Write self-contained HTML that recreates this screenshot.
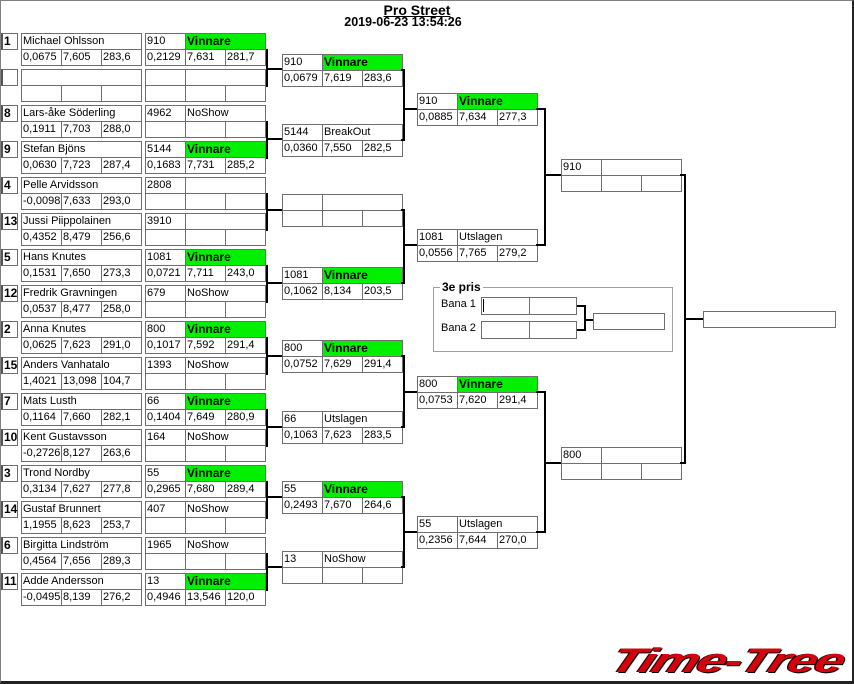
<!DOCTYPE html>
<html><head><meta charset="utf-8">
<style>
*{margin:0;padding:0}
body{width:854px;height:684px;position:relative;background:#fff;overflow:hidden;font-family:"Liberation Sans",sans-serif}
.c{position:absolute;border:1px solid #6e6e6e;box-sizing:border-box;height:17px;width:41px;font-size:11px;line-height:15px;padding-left:1px;white-space:nowrap;overflow:hidden;color:#000;background:#fff}
.w{width:121px}.m{width:81px}
.g{background:#00f000;font-weight:bold;font-size:12px}
.s{position:absolute;border:1px solid #6e6e6e;border-left:2px solid #555;box-sizing:border-box;width:17px;height:17px;font-weight:bold;font-size:12px;line-height:15px;padding-left:1px}
.h{position:absolute;background:#000;height:2px}
.v{position:absolute;background:#000;width:2px}
</style></head><body>
<div style="position:absolute;left:0;top:0;width:854px;height:684px;box-sizing:border-box;border:1px solid #808080;border-right:2px solid #222;border-bottom:3px solid #222"></div>
<div style="position:absolute;left:0;width:834px;top:2px;text-align:center;font-weight:bold;font-size:14px;text-decoration:underline">Pro Street</div>
<div style="position:absolute;left:0;width:806px;top:15px;text-align:center;font-weight:bold;font-size:12.5px">2019-06-23 13:54:26</div>

<!-- slot 33 -->
<div class="s" style="left:1px;top:33px">1</div>
<div class="c w" style="left:21px;top:33px">Michael Ohlsson</div>
<div class="c" style="left:21px;top:49px">0,0675</div><div class="c" style="left:61px;top:49px">7,605</div><div class="c" style="left:101px;top:49px">283,6</div>
<div class="c" style="left:145px;top:33px">910</div><div class="c m g" style="left:185px;top:33px">Vinnare</div>
<div class="c" style="left:145px;top:49px">0,2129</div><div class="c" style="left:185px;top:49px">7,631</div><div class="c" style="left:225px;top:49px">281,7</div>
<!-- slot 69 -->
<div class="s" style="left:1px;top:69px"></div>
<div class="c w" style="left:21px;top:69px"></div>
<div class="c" style="left:21px;top:85px"></div><div class="c" style="left:61px;top:85px"></div><div class="c" style="left:101px;top:85px"></div>
<div class="c" style="left:145px;top:69px"></div><div class="c m" style="left:185px;top:69px"></div>
<div class="c" style="left:145px;top:85px"></div><div class="c" style="left:185px;top:85px"></div><div class="c" style="left:225px;top:85px"></div>
<!-- slot 105 -->
<div class="s" style="left:1px;top:105px">8</div>
<div class="c w" style="left:21px;top:105px">Lars-åke Söderling</div>
<div class="c" style="left:21px;top:121px">0,1911</div><div class="c" style="left:61px;top:121px">7,703</div><div class="c" style="left:101px;top:121px">288,0</div>
<div class="c" style="left:145px;top:105px">4962</div><div class="c m" style="left:185px;top:105px">NoShow</div>
<div class="c" style="left:145px;top:121px"></div><div class="c" style="left:185px;top:121px"></div><div class="c" style="left:225px;top:121px"></div>
<!-- slot 141 -->
<div class="s" style="left:1px;top:141px">9</div>
<div class="c w" style="left:21px;top:141px">Stefan Bjöns</div>
<div class="c" style="left:21px;top:157px">0,0630</div><div class="c" style="left:61px;top:157px">7,723</div><div class="c" style="left:101px;top:157px">287,4</div>
<div class="c" style="left:145px;top:141px">5144</div><div class="c m g" style="left:185px;top:141px">Vinnare</div>
<div class="c" style="left:145px;top:157px">0,1683</div><div class="c" style="left:185px;top:157px">7,731</div><div class="c" style="left:225px;top:157px">285,2</div>
<!-- slot 177 -->
<div class="s" style="left:1px;top:177px">4</div>
<div class="c w" style="left:21px;top:177px">Pelle Arvidsson</div>
<div class="c" style="left:21px;top:193px">-0,0098</div><div class="c" style="left:61px;top:193px">7,633</div><div class="c" style="left:101px;top:193px">293,0</div>
<div class="c" style="left:145px;top:177px">2808</div><div class="c m" style="left:185px;top:177px"></div>
<div class="c" style="left:145px;top:193px"></div><div class="c" style="left:185px;top:193px"></div><div class="c" style="left:225px;top:193px"></div>
<!-- slot 213 -->
<div class="s" style="left:1px;top:213px">13</div>
<div class="c w" style="left:21px;top:213px">Jussi Piippolainen</div>
<div class="c" style="left:21px;top:229px">0,4352</div><div class="c" style="left:61px;top:229px">8,479</div><div class="c" style="left:101px;top:229px">256,6</div>
<div class="c" style="left:145px;top:213px">3910</div><div class="c m" style="left:185px;top:213px"></div>
<div class="c" style="left:145px;top:229px"></div><div class="c" style="left:185px;top:229px"></div><div class="c" style="left:225px;top:229px"></div>
<!-- slot 249 -->
<div class="s" style="left:1px;top:249px">5</div>
<div class="c w" style="left:21px;top:249px">Hans Knutes</div>
<div class="c" style="left:21px;top:265px">0,1531</div><div class="c" style="left:61px;top:265px">7,650</div><div class="c" style="left:101px;top:265px">273,3</div>
<div class="c" style="left:145px;top:249px">1081</div><div class="c m g" style="left:185px;top:249px">Vinnare</div>
<div class="c" style="left:145px;top:265px">0,0721</div><div class="c" style="left:185px;top:265px">7,711</div><div class="c" style="left:225px;top:265px">243,0</div>
<!-- slot 285 -->
<div class="s" style="left:1px;top:285px">12</div>
<div class="c w" style="left:21px;top:285px">Fredrik Gravningen</div>
<div class="c" style="left:21px;top:301px">0,0537</div><div class="c" style="left:61px;top:301px">8,477</div><div class="c" style="left:101px;top:301px">258,0</div>
<div class="c" style="left:145px;top:285px">679</div><div class="c m" style="left:185px;top:285px">NoShow</div>
<div class="c" style="left:145px;top:301px"></div><div class="c" style="left:185px;top:301px"></div><div class="c" style="left:225px;top:301px"></div>
<!-- slot 321 -->
<div class="s" style="left:1px;top:321px">2</div>
<div class="c w" style="left:21px;top:321px">Anna Knutes</div>
<div class="c" style="left:21px;top:337px">0,0625</div><div class="c" style="left:61px;top:337px">7,623</div><div class="c" style="left:101px;top:337px">291,0</div>
<div class="c" style="left:145px;top:321px">800</div><div class="c m g" style="left:185px;top:321px">Vinnare</div>
<div class="c" style="left:145px;top:337px">0,1017</div><div class="c" style="left:185px;top:337px">7,592</div><div class="c" style="left:225px;top:337px">291,4</div>
<!-- slot 357 -->
<div class="s" style="left:1px;top:357px">15</div>
<div class="c w" style="left:21px;top:357px">Anders Vanhatalo</div>
<div class="c" style="left:21px;top:373px">1,4021</div><div class="c" style="left:61px;top:373px">13,098</div><div class="c" style="left:101px;top:373px">104,7</div>
<div class="c" style="left:145px;top:357px">1393</div><div class="c m" style="left:185px;top:357px">NoShow</div>
<div class="c" style="left:145px;top:373px"></div><div class="c" style="left:185px;top:373px"></div><div class="c" style="left:225px;top:373px"></div>
<!-- slot 393 -->
<div class="s" style="left:1px;top:393px">7</div>
<div class="c w" style="left:21px;top:393px">Mats Lusth</div>
<div class="c" style="left:21px;top:409px">0,1164</div><div class="c" style="left:61px;top:409px">7,660</div><div class="c" style="left:101px;top:409px">282,1</div>
<div class="c" style="left:145px;top:393px">66</div><div class="c m g" style="left:185px;top:393px">Vinnare</div>
<div class="c" style="left:145px;top:409px">0,1404</div><div class="c" style="left:185px;top:409px">7,649</div><div class="c" style="left:225px;top:409px">280,9</div>
<!-- slot 429 -->
<div class="s" style="left:1px;top:429px">10</div>
<div class="c w" style="left:21px;top:429px">Kent Gustavsson</div>
<div class="c" style="left:21px;top:445px">-0,2726</div><div class="c" style="left:61px;top:445px">8,127</div><div class="c" style="left:101px;top:445px">263,6</div>
<div class="c" style="left:145px;top:429px">164</div><div class="c m" style="left:185px;top:429px">NoShow</div>
<div class="c" style="left:145px;top:445px"></div><div class="c" style="left:185px;top:445px"></div><div class="c" style="left:225px;top:445px"></div>
<!-- slot 465 -->
<div class="s" style="left:1px;top:465px">3</div>
<div class="c w" style="left:21px;top:465px">Trond Nordby</div>
<div class="c" style="left:21px;top:481px">0,3134</div><div class="c" style="left:61px;top:481px">7,627</div><div class="c" style="left:101px;top:481px">277,8</div>
<div class="c" style="left:145px;top:465px">55</div><div class="c m g" style="left:185px;top:465px">Vinnare</div>
<div class="c" style="left:145px;top:481px">0,2965</div><div class="c" style="left:185px;top:481px">7,680</div><div class="c" style="left:225px;top:481px">289,4</div>
<!-- slot 501 -->
<div class="s" style="left:1px;top:501px">14</div>
<div class="c w" style="left:21px;top:501px">Gustaf Brunnert</div>
<div class="c" style="left:21px;top:517px">1,1955</div><div class="c" style="left:61px;top:517px">8,623</div><div class="c" style="left:101px;top:517px">253,7</div>
<div class="c" style="left:145px;top:501px">407</div><div class="c m" style="left:185px;top:501px">NoShow</div>
<div class="c" style="left:145px;top:517px"></div><div class="c" style="left:185px;top:517px"></div><div class="c" style="left:225px;top:517px"></div>
<!-- slot 537 -->
<div class="s" style="left:1px;top:537px">6</div>
<div class="c w" style="left:21px;top:537px">Birgitta Lindström</div>
<div class="c" style="left:21px;top:553px">0,4564</div><div class="c" style="left:61px;top:553px">7,656</div><div class="c" style="left:101px;top:553px">289,3</div>
<div class="c" style="left:145px;top:537px">1965</div><div class="c m" style="left:185px;top:537px">NoShow</div>
<div class="c" style="left:145px;top:553px"></div><div class="c" style="left:185px;top:553px"></div><div class="c" style="left:225px;top:553px"></div>
<!-- slot 573 -->
<div class="s" style="left:1px;top:573px">11</div>
<div class="c w" style="left:21px;top:573px">Adde Andersson</div>
<div class="c" style="left:21px;top:589px">-0,0495</div><div class="c" style="left:61px;top:589px">8,139</div><div class="c" style="left:101px;top:589px">276,2</div>
<div class="c" style="left:145px;top:573px">13</div><div class="c m g" style="left:185px;top:573px">Vinnare</div>
<div class="c" style="left:145px;top:589px">0,4946</div><div class="c" style="left:185px;top:589px">13,546</div><div class="c" style="left:225px;top:589px">120,0</div>

<!-- round 1 -->
<div class="c" style="left:282px;top:54px">910</div><div class="c m g" style="left:322px;top:54px">Vinnare</div>
<div class="c" style="left:282px;top:70px">0,0679</div><div class="c" style="left:322px;top:70px">7,619</div><div class="c" style="left:362px;top:70px">283,6</div>
<div class="c" style="left:282px;top:124px">5144</div><div class="c m" style="left:322px;top:124px">BreakOut</div>
<div class="c" style="left:282px;top:140px">0,0360</div><div class="c" style="left:322px;top:140px">7,550</div><div class="c" style="left:362px;top:140px">282,5</div>
<div class="c" style="left:282px;top:194px"></div><div class="c m" style="left:322px;top:194px"></div>
<div class="c" style="left:282px;top:210px"></div><div class="c" style="left:322px;top:210px"></div><div class="c" style="left:362px;top:210px"></div>
<div class="c" style="left:282px;top:267px">1081</div><div class="c m g" style="left:322px;top:267px">Vinnare</div>
<div class="c" style="left:282px;top:283px">0,1062</div><div class="c" style="left:322px;top:283px">8,134</div><div class="c" style="left:362px;top:283px">203,5</div>
<div class="c" style="left:282px;top:340px">800</div><div class="c m g" style="left:322px;top:340px">Vinnare</div>
<div class="c" style="left:282px;top:356px">0,0752</div><div class="c" style="left:322px;top:356px">7,629</div><div class="c" style="left:362px;top:356px">291,4</div>
<div class="c" style="left:282px;top:411px">66</div><div class="c m" style="left:322px;top:411px">Utslagen</div>
<div class="c" style="left:282px;top:427px">0,1063</div><div class="c" style="left:322px;top:427px">7,623</div><div class="c" style="left:362px;top:427px">283,5</div>
<div class="c" style="left:282px;top:481px">55</div><div class="c m g" style="left:322px;top:481px">Vinnare</div>
<div class="c" style="left:282px;top:497px">0,2493</div><div class="c" style="left:322px;top:497px">7,670</div><div class="c" style="left:362px;top:497px">264,6</div>
<div class="c" style="left:282px;top:551px">13</div><div class="c m" style="left:322px;top:551px">NoShow</div>
<div class="c" style="left:282px;top:567px"></div><div class="c" style="left:322px;top:567px"></div><div class="c" style="left:362px;top:567px"></div>

<!-- round 2 -->
<div class="c" style="left:417px;top:93px">910</div><div class="c m g" style="left:457px;top:93px">Vinnare</div>
<div class="c" style="left:417px;top:109px">0,0885</div><div class="c" style="left:457px;top:109px">7,634</div><div class="c" style="left:497px;top:109px">277,3</div>
<div class="c" style="left:417px;top:229px">1081</div><div class="c m" style="left:457px;top:229px">Utslagen</div>
<div class="c" style="left:417px;top:245px">0,0556</div><div class="c" style="left:457px;top:245px">7,765</div><div class="c" style="left:497px;top:245px">279,2</div>
<div class="c" style="left:417px;top:376px">800</div><div class="c m g" style="left:457px;top:376px">Vinnare</div>
<div class="c" style="left:417px;top:392px">0,0753</div><div class="c" style="left:457px;top:392px">7,620</div><div class="c" style="left:497px;top:392px">291,4</div>
<div class="c" style="left:417px;top:516px">55</div><div class="c m" style="left:457px;top:516px">Utslagen</div>
<div class="c" style="left:417px;top:532px">0,2356</div><div class="c" style="left:457px;top:532px">7,644</div><div class="c" style="left:497px;top:532px">270,0</div>

<!-- round 3 -->
<div class="c" style="left:561px;top:159px">910</div><div class="c m" style="left:601px;top:159px"></div>
<div class="c" style="left:561px;top:175px"></div><div class="c" style="left:601px;top:175px"></div><div class="c" style="left:641px;top:175px"></div>
<div class="c" style="left:561px;top:447px">800</div><div class="c m" style="left:601px;top:447px"></div>
<div class="c" style="left:561px;top:463px"></div><div class="c" style="left:601px;top:463px"></div><div class="c" style="left:641px;top:463px"></div>

<!-- final -->
<div class="c" style="left:703px;top:311px;width:133px"></div>

<!-- 3e pris -->
<div style="position:absolute;left:433px;top:287px;width:240px;height:65px;box-sizing:border-box;border:1px solid #a0a0a0"></div>
<div style="position:absolute;left:440px;top:280px;background:#fff;padding:0 2px;font-weight:bold;font-size:12px;line-height:14px">3e pris</div>
<div style="position:absolute;left:441px;top:298px;font-size:11px">Bana 1</div>
<div style="position:absolute;left:441px;top:322px;font-size:11px">Bana 2</div>
<div class="c" style="left:481px;top:297px;width:49px;height:18px"><span style="display:inline-block;width:1px;height:13px;background:#000;margin-top:1px"></span></div><div class="c" style="left:529px;top:297px;width:48px;height:18px"></div>
<div class="c" style="left:481px;top:321px;width:49px;height:18px"></div><div class="c" style="left:529px;top:321px;width:48px;height:18px"></div>
<div class="c" style="left:593px;top:313px;width:72px"></div>
<div class="h" style="left:577px;top:305px;width:8px"></div>
<div class="h" style="left:577px;top:329px;width:8px"></div>
<div class="v" style="left:584px;top:305px;height:26px"></div>
<div class="h" style="left:584px;top:319px;width:9px"></div>

<!-- connectors R0->R1 -->
<div class="v" style="left:266px;top:49px;height:38px"></div><div class="h" style="left:266px;top:68px;width:16px"></div>
<div class="v" style="left:266px;top:121px;height:38px"></div><div class="h" style="left:266px;top:138px;width:16px"></div>
<div class="v" style="left:266px;top:193px;height:38px"></div><div class="h" style="left:266px;top:209px;width:16px"></div>
<div class="v" style="left:266px;top:265px;height:38px"></div><div class="h" style="left:266px;top:282px;width:16px"></div>
<div class="v" style="left:266px;top:337px;height:38px"></div><div class="h" style="left:266px;top:355px;width:16px"></div>
<div class="v" style="left:266px;top:409px;height:38px"></div><div class="h" style="left:266px;top:426px;width:16px"></div>
<div class="v" style="left:266px;top:481px;height:38px"></div><div class="h" style="left:266px;top:496px;width:16px"></div>
<div class="v" style="left:266px;top:553px;height:38px"></div><div class="h" style="left:266px;top:566px;width:16px"></div>
<!-- R1->R2 -->
<div class="h" style="left:401px;top:69px;width:4px"></div><div class="h" style="left:401px;top:139px;width:4px"></div>
<div class="v" style="left:403px;top:69px;height:72px"></div><div class="h" style="left:403px;top:108px;width:14px"></div>
<div class="h" style="left:401px;top:209px;width:4px"></div><div class="h" style="left:401px;top:282px;width:4px"></div>
<div class="v" style="left:403px;top:209px;height:75px"></div><div class="h" style="left:403px;top:244px;width:14px"></div>
<div class="h" style="left:401px;top:355px;width:4px"></div><div class="h" style="left:401px;top:426px;width:4px"></div>
<div class="v" style="left:403px;top:355px;height:73px"></div><div class="h" style="left:403px;top:391px;width:14px"></div>
<div class="h" style="left:401px;top:496px;width:4px"></div><div class="h" style="left:401px;top:566px;width:4px"></div>
<div class="v" style="left:403px;top:496px;height:72px"></div><div class="h" style="left:403px;top:531px;width:14px"></div>
<!-- R2->R3 -->
<div class="h" style="left:536px;top:108px;width:10px"></div><div class="h" style="left:536px;top:244px;width:10px"></div>
<div class="v" style="left:544px;top:108px;height:138px"></div><div class="h" style="left:544px;top:174px;width:17px"></div>
<div class="h" style="left:536px;top:391px;width:10px"></div><div class="h" style="left:536px;top:531px;width:10px"></div>
<div class="v" style="left:544px;top:391px;height:142px"></div><div class="h" style="left:544px;top:462px;width:17px"></div>
<!-- R3->final -->
<div class="h" style="left:680px;top:174px;width:6px"></div><div class="h" style="left:680px;top:462px;width:6px"></div>
<div class="v" style="left:684px;top:174px;height:290px"></div><div class="h" style="left:684px;top:318px;width:19px"></div>

<!-- logo -->
<div style="position:absolute;left:620px;top:641px;font-size:34px;font-weight:bold;font-style:italic;color:#d8000c;letter-spacing:-1px;transform:skewX(-22deg) scaleX(1.52);transform-origin:left top;text-shadow:1px 1px 0 #000,-1px 0 0 #300;line-height:40px">Time-Tree</div>
</body></html>
